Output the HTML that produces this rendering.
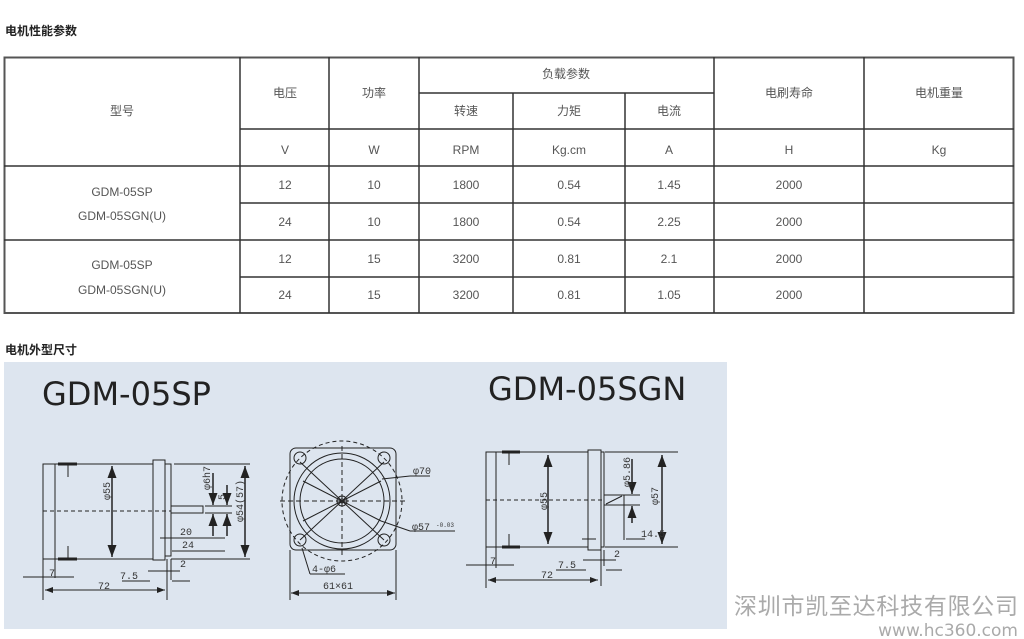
<!DOCTYPE html>
<html><head><meta charset="utf-8"><style>
html,body{margin:0;padding:0;background:#fff;}
svg{display:block;}
.t{font-family:"Liberation Sans","Noto Sans CJK SC",sans-serif;font-size:12px;fill:#555;text-anchor:middle;}
.h{font-family:"Liberation Sans","Noto Sans CJK SC",sans-serif;font-size:12px;fill:#222;font-weight:bold;}
.d{font-family:"Liberation Mono",monospace;font-size:10px;fill:#333;}
</style></head><body>
<svg width="1024" height="639" viewBox="0 0 1024 639" xmlns="http://www.w3.org/2000/svg">
<defs><marker id="a" markerWidth="8" markerHeight="6" refX="8" refY="3" orient="auto-start-reverse"><path d="M0,0 L8,3 L0,6 z" fill="#222"/></marker></defs>
<text class="h" x="5" y="35">电机性能参数</text>
<g stroke="#333" stroke-width="1.5" fill="none">
<rect x="4.5" y="57.5" width="1009" height="255.5" stroke="#555" stroke-width="2"/>
<line x1="240" y1="57" x2="240" y2="313"/>
<line x1="329" y1="57" x2="329" y2="313"/>
<line x1="419" y1="57" x2="419" y2="313"/>
<line x1="513" y1="93" x2="513" y2="313"/>
<line x1="625" y1="93" x2="625" y2="313"/>
<line x1="714" y1="57" x2="714" y2="313"/>
<line x1="864" y1="57" x2="864" y2="313"/>
<line x1="419" y1="93" x2="714" y2="93"/>
<line x1="240" y1="129" x2="1014" y2="129"/>
<line x1="4" y1="166" x2="1014" y2="166"/>
<line x1="240" y1="203" x2="1014" y2="203"/>
<line x1="4" y1="240" x2="1014" y2="240"/>
<line x1="240" y1="277" x2="1014" y2="277"/>
</g>
<g class="t">
<text x="122" y="115">型号</text>
<text x="285" y="97">电压</text><text x="374" y="97">功率</text>
<text x="566" y="78">负载参数</text>
<text x="466" y="115">转速</text><text x="569" y="115">力矩</text><text x="669" y="115">电流</text>
<text x="789" y="97">电刷寿命</text><text x="939" y="97">电机重量</text>
<text x="285" y="154">V</text><text x="374" y="154">W</text><text x="466" y="154">RPM</text><text x="569" y="154">Kg.cm</text><text x="669" y="154">A</text><text x="789" y="154">H</text><text x="939" y="154">Kg</text>
<text x="122" y="196">GDM-05SP</text><text x="122" y="220">GDM-05SGN(U)</text>
<text x="122" y="269">GDM-05SP</text><text x="122" y="294">GDM-05SGN(U)</text>
<text x="285" y="189">12</text><text x="374" y="189">10</text><text x="466" y="189">1800</text><text x="569" y="189">0.54</text><text x="669" y="189">1.45</text><text x="789" y="189">2000</text>
<text x="285" y="226">24</text><text x="374" y="226">10</text><text x="466" y="226">1800</text><text x="569" y="226">0.54</text><text x="669" y="226">2.25</text><text x="789" y="226">2000</text>
<text x="285" y="263">12</text><text x="374" y="263">15</text><text x="466" y="263">3200</text><text x="569" y="263">0.81</text><text x="669" y="263">2.1</text><text x="789" y="263">2000</text>
<text x="285" y="299">24</text><text x="374" y="299">15</text><text x="466" y="299">3200</text><text x="569" y="299">0.81</text><text x="669" y="299">1.05</text><text x="789" y="299">2000</text>
</g>
<text class="h" x="5" y="354">电机外型尺寸</text>
<rect x="4" y="362" width="723" height="267" fill="#dde5ef"/>
<text x="42" y="405" font-family="'DejaVu Sans',sans-serif" font-size="32" fill="#222">GDM-05SP</text>
<text x="488" y="400" font-family="'DejaVu Sans',sans-serif" font-size="32" fill="#222">GDM-05SGN</text>
<g stroke="#222" stroke-width="1" fill="none">
<rect x="43" y="464" width="110" height="95"/>
<line x1="55" y1="464" x2="55" y2="559"/>
<line x1="58" y1="464" x2="77" y2="464" stroke-width="3"/>
<line x1="58" y1="559" x2="77" y2="559" stroke-width="3"/>
<line x1="68" y1="464" x2="68" y2="477"/><line x1="68" y1="546" x2="68" y2="559"/>
<rect x="153" y="460" width="12" height="100"/>
<rect x="165" y="464" width="6" height="92"/>
<rect x="171" y="506" width="32" height="7"/>
<line x1="43" y1="511" x2="171" y2="511" stroke-dasharray="4,3"/>
<line x1="174" y1="464" x2="250" y2="464"/><line x1="171" y1="559" x2="250" y2="559"/>
<line x1="112" y1="466" x2="112" y2="557" stroke-width="1.5" marker-start="url(#a)" marker-end="url(#a)"/>
<line x1="245" y1="466" x2="245" y2="557" stroke-width="1.5" marker-start="url(#a)" marker-end="url(#a)"/>
<line x1="213" y1="473" x2="213" y2="505" stroke-width="1.5" marker-end="url(#a)"/><line x1="213" y1="536" x2="213" y2="514" stroke-width="1.5" marker-end="url(#a)"/>
<line x1="227" y1="485" x2="227" y2="505" stroke-width="1.5" marker-end="url(#a)"/><line x1="227" y1="536" x2="227" y2="514" stroke-width="1.5" marker-end="url(#a)"/>
<line x1="205" y1="506" x2="232" y2="506"/><line x1="205" y1="513" x2="232" y2="513"/>
<line x1="160" y1="538" x2="225" y2="538"/><line x1="172" y1="551" x2="225" y2="551"/>
<line x1="43" y1="559" x2="43" y2="600"/><line x1="55" y1="559" x2="55" y2="578"/>
<line x1="167" y1="559" x2="167" y2="600"/><line x1="171" y1="559" x2="171" y2="580"/>
<line x1="23" y1="577" x2="74" y2="577"/>
<line x1="45" y1="590" x2="165" y2="590" marker-start="url(#a)" marker-end="url(#a)"/>
<line x1="122" y1="581" x2="150" y2="581"/><line x1="172" y1="581" x2="190" y2="581"/>
<line x1="148" y1="571" x2="180" y2="571"/>
</g>
<g class="d"><text x="180" y="535">20</text><text x="182" y="548">24</text><text x="49" y="576">7</text><text x="120" y="579">7.5</text><text x="98" y="589">72</text><text x="180" y="567">2</text>
<text transform="translate(110,500) rotate(-90)">φ55</text><text transform="translate(210,490) rotate(-90)">φ6h7</text><text transform="translate(225,500) rotate(-90)">5</text><text transform="translate(243,522) rotate(-90)">φ54(57)</text></g>
<g stroke="#222" stroke-width="1" fill="none">
<rect x="290" y="448" width="106" height="102" rx="6"/>
<circle cx="342" cy="501" r="60" stroke-dasharray="4,3"/>
<circle cx="342" cy="501" r="48"/><circle cx="342" cy="501" r="42"/>
<circle cx="342" cy="501" r="5"/><circle cx="342" cy="501" r="2"/>
<line x1="280" y1="501" x2="406" y2="501" stroke-dasharray="5,3"/>
<line x1="342" y1="446" x2="342" y2="556" stroke-dasharray="5,3"/>
<line x1="303" y1="481" x2="381" y2="521"/><line x1="303" y1="521" x2="381" y2="481"/>
<line x1="300" y1="540" x2="384" y2="462"/><line x1="300" y1="462" x2="384" y2="540"/>
<circle cx="300" cy="458" r="6"/><circle cx="384" cy="458" r="6"/><circle cx="300" cy="540" r="6"/><circle cx="384" cy="540" r="6"/>
<line x1="382" y1="479" x2="410" y2="476"/><line x1="410" y1="476" x2="430" y2="476"/>
<line x1="381" y1="521" x2="410" y2="531"/><line x1="410" y1="531" x2="455" y2="531"/>
<line x1="302" y1="548" x2="310" y2="574"/><line x1="310" y1="574" x2="345" y2="574"/>
<line x1="290" y1="550" x2="290" y2="600"/><line x1="396" y1="550" x2="396" y2="600"/>
<line x1="291" y1="593" x2="395" y2="593" marker-start="url(#a)" marker-end="url(#a)"/>
</g>
<g class="d"><text x="413" y="474">φ70</text><text x="412" y="530">φ57</text><text x="436" y="527" font-size="6">-0.03</text><text x="312" y="572">4-φ6</text><text x="323" y="589">61×61</text></g>
<g stroke="#222" stroke-width="1" fill="none">
<rect x="486" y="452" width="102" height="95"/>
<line x1="496" y1="452" x2="496" y2="547"/>
<line x1="502" y1="452" x2="520" y2="452" stroke-width="3"/><line x1="502" y1="547" x2="520" y2="547" stroke-width="3"/>
<line x1="509" y1="452" x2="509" y2="465"/><line x1="509" y1="534" x2="509" y2="547"/>
<rect x="588" y="450" width="13" height="100"/>
<rect x="601" y="452" width="3" height="95"/>
<rect x="604" y="495" width="20" height="10"/><line x1="606" y1="504" x2="622" y2="496"/>
<line x1="486" y1="500" x2="604" y2="500" stroke-dasharray="4,3"/>
<line x1="605" y1="452" x2="678" y2="452"/><line x1="605" y1="547" x2="678" y2="547"/>
<line x1="548" y1="455" x2="548" y2="544" stroke-width="1.5" marker-start="url(#a)" marker-end="url(#a)"/>
<line x1="662" y1="455" x2="662" y2="544" stroke-width="1.5" marker-start="url(#a)" marker-end="url(#a)"/>
<line x1="632" y1="459" x2="632" y2="494" stroke-width="1.5" marker-end="url(#a)"/><line x1="632" y1="523" x2="632" y2="506" stroke-width="1.5" marker-end="url(#a)"/>
<line x1="624" y1="495" x2="640" y2="495"/><line x1="624" y1="505" x2="640" y2="505"/>
<line x1="624" y1="505" x2="624" y2="540"/>
<line x1="582" y1="539" x2="596" y2="539"/><line x1="626" y1="539" x2="645" y2="539"/>
<line x1="486" y1="547" x2="486" y2="588"/><line x1="496" y1="547" x2="496" y2="568"/>
<line x1="601" y1="550" x2="601" y2="586"/><line x1="604" y1="550" x2="604" y2="566"/>
<line x1="466" y1="565" x2="514" y2="565"/>
<line x1="488" y1="580" x2="598" y2="580" marker-start="url(#a)" marker-end="url(#a)"/>
<line x1="556" y1="570" x2="586" y2="570"/><line x1="606" y1="570" x2="622" y2="570"/>
<line x1="583" y1="560" x2="616" y2="560"/>
</g>
<g class="d"><text x="641" y="537">14.5</text><text x="490" y="564">7</text><text x="558" y="568">7.5</text><text x="541" y="578">72</text><text x="614" y="557">2</text>
<text transform="translate(547,510) rotate(-90)">φ55</text><text transform="translate(630,487) rotate(-90)">φ5.86</text><text transform="translate(658,505) rotate(-90)">φ57</text></g>
<text x="1018" y="614" font-family="'Noto Sans CJK SC',sans-serif" font-size="23" fill="#aaa" text-anchor="end" textLength="284">深圳市凯至达科技有限公司</text>
<text x="1018" y="636" font-family="'DejaVu Sans',sans-serif" font-size="17" fill="#aaa" text-anchor="end">www.hc360.com</text>
</svg>
</body></html>
